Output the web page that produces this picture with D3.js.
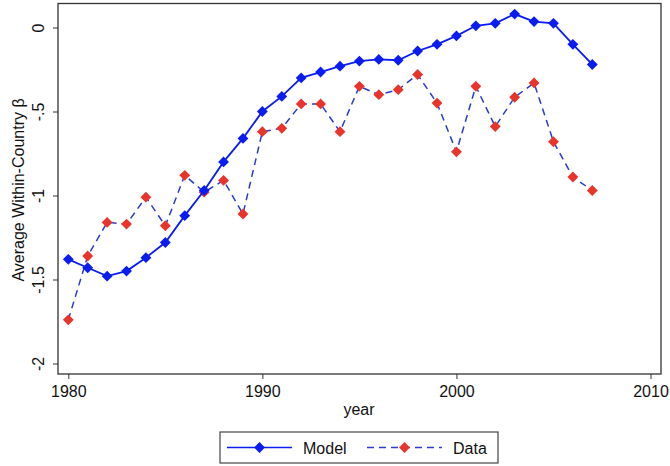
<!DOCTYPE html>
<html>
<head>
<meta charset="utf-8">
<script src="https://cdn.jsdelivr.net/npm/d3@7"></script>
<style>
  body { margin: 0; background: #fff; }
  text { font-family: "Liberation Sans", Arial, sans-serif; fill: #111; }
</style>
</head>
<body>
<div id="chart"></div>
<script>
var years = [1980, 1981, 1982, 1983, 1984, 1985, 1986, 1987, 1988, 1989,
             1990, 1991, 1992, 1993, 1994, 1995, 1996, 1997, 1998, 1999,
             2000, 2001, 2002, 2003, 2004, 2005, 2006, 2007];

var modelValues = [-1.38, -1.43, -1.48, -1.45, -1.37, -1.28, -1.12, -0.97, -0.80, -0.66,
                   -0.50, -0.41, -0.30, -0.265, -0.23, -0.20, -0.19, -0.195, -0.14, -0.10,
                   -0.05, 0.01, 0.025, 0.08, 0.035, 0.025, -0.10, -0.22];

var dataValues = [-1.74, -1.36, -1.16, -1.17, -1.01, -1.18, -0.88, -0.98, -0.91, -1.11,
                  -0.62, -0.60, -0.455, -0.455, -0.62, -0.35, -0.40, -0.37, -0.28, -0.45,
                  -0.74, -0.35, -0.59, -0.415, -0.33, -0.68, -0.89, -0.97];

var xTicks = [1980, 1990, 2000, 2010];
var yTicks = [0, -0.5, -1, -1.5, -2];
var yTickLabels = ["0", "-.5", "-1", "-1.5", "-2"];

var seriesNames = ["Model", "Data"];

var svgWidth = 670;
var svgHeight = 466;

var frame = { left: 58, top: 3.5, right: 661, bottom: 374 };

var svg = d3.select("#chart")
  .append("svg")
  .attr("width", svgWidth)
  .attr("height", svgHeight);

var xScale = d3.scaleLinear()
  .domain([1980, 2010])
  .range([68.3, 650.5]);

var yScale = d3.scaleLinear()
  .domain([-2, 0])
  .range([363.5, 27.5]);

// plot frame
svg.append("rect")
  .attr("x", frame.left)
  .attr("y", frame.top)
  .attr("width", frame.right - frame.left)
  .attr("height", frame.bottom - frame.top)
  .attr("fill", "none")
  .attr("stroke", "#333")
  .attr("stroke-width", 1.3);

// x axis
var xAxis = d3.axisBottom(xScale)
  .tickValues(xTicks)
  .tickSize(5)
  .tickFormat(d3.format("d"));

var xg = svg.append("g")
  .attr("class", "xAxis")
  .attr("transform", "translate(0," + frame.bottom + ")")
  .call(xAxis);
xg.select(".domain").remove();
xg.selectAll(".tick line").attr("stroke", "#333");
xg.selectAll(".tick text")
  .attr("font-size", 16)
  .attr("fill", "#111")
  .attr("y", 12);

// y axis, labels turned
var yAxis = d3.axisLeft(yScale)
  .tickValues(yTicks)
  .tickSize(5)
  .tickFormat(function(d, i) { return yTickLabels[i]; });

var yg = svg.append("g")
  .attr("class", "yAxis")
  .attr("transform", "translate(" + frame.left + ",0)")
  .call(yAxis);
yg.select(".domain").remove();
yg.selectAll(".tick line").attr("stroke", "#333");
yg.selectAll(".tick text")
  .attr("font-size", 16)
  .attr("fill", "#111")
  .attr("x", 0)
  .attr("dy", 0)
  .attr("text-anchor", "middle")
  .attr("transform", "translate(-14,0) rotate(-90)");

// axis titles
svg.append("text")
  .attr("x", 359)
  .attr("y", 415)
  .attr("text-anchor", "middle")
  .attr("font-size", 16)
  .text("year");

svg.append("text")
  .attr("transform", "translate(24,190) rotate(-90)")
  .attr("text-anchor", "middle")
  .attr("font-size", 16)
  .text("Average Within-Country β");

var diamond = d3.symbol().type(d3.symbolDiamond2).size(75);

var modelColor = "#0a1cf0";
var dataLine = "#2a3ccc";
var dataColor = "#e8342a";

var line = d3.line()
  .x(function(d, i) { return xScale(years[i]); })
  .y(function(d) { return yScale(d); });

// Data series (dashed)
svg.append("path")
  .datum(dataValues)
  .attr("d", line)
  .attr("fill", "none")
  .attr("stroke", dataLine)
  .attr("stroke-width", 1.5)
  .attr("stroke-dasharray", "7,5");

svg.selectAll(".dataPt")
  .data(dataValues)
  .enter()
  .append("path")
  .attr("class", "dataPt")
  .attr("d", diamond)
  .attr("fill", dataColor)
  .attr("transform", function(d, i) {
    return "translate(" + xScale(years[i]) + "," + yScale(d) + ")";
  });

// Model series (solid)
svg.append("path")
  .datum(modelValues)
  .attr("d", line)
  .attr("fill", "none")
  .attr("stroke", modelColor)
  .attr("stroke-width", 1.8);

svg.selectAll(".modelPt")
  .data(modelValues)
  .enter()
  .append("path")
  .attr("class", "modelPt")
  .attr("d", diamond)
  .attr("fill", modelColor)
  .attr("transform", function(d, i) {
    return "translate(" + xScale(years[i]) + "," + yScale(d) + ")";
  });

// legend
var legend = svg.append("g").attr("class", "legend");

legend.append("rect")
  .attr("x", 220)
  .attr("y", 432)
  .attr("width", 278)
  .attr("height", 31)
  .attr("fill", "#fff")
  .attr("stroke", "#444")
  .attr("stroke-width", 1.2);

var legendItems = [
  { x1: 227, x2: 292, textX: 303, color: modelColor, fill: modelColor, dash: null },
  { x1: 367, x2: 442, textX: 453, color: dataLine, fill: dataColor, dash: "7,5" }
];

legendItems.forEach(function(item, i) {
  legend.append("line")
    .attr("x1", item.x1)
    .attr("x2", item.x2)
    .attr("y1", 447.5)
    .attr("y2", 447.5)
    .attr("stroke", item.color)
    .attr("stroke-width", 1.5)
    .attr("stroke-dasharray", item.dash);
  legend.append("path")
    .attr("d", diamond)
    .attr("fill", item.fill)
    .attr("transform", "translate(" + ((item.x1 + item.x2) / 2) + ",447.5)");
  legend.append("text")
    .attr("x", item.textX)
    .attr("y", 454)
    .attr("font-size", 16)
    .text(seriesNames[i]);
});
</script>
</body>
</html>
